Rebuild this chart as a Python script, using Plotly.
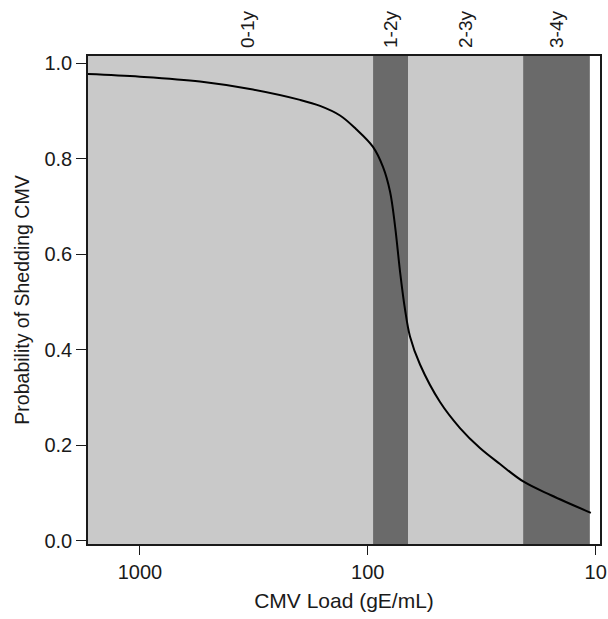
import plotly.graph_objects as go

# Curve: CMV load (gE/mL) vs probability of shedding
load = [1691, 1000, 545.3, 328.9, 198.4, 162.1, 132.4, 112.7, 94.9, 85.8, 79.9, 75.9, 72.2, 68.7, 65.3,
        59.0, 48.2, 39.4, 32.2, 26.3, 20.7, 15.7, 10.5]
prob = [0.9776, 0.972, 0.9619, 0.9461, 0.9233, 0.9107, 0.8906, 0.8623, 0.8248, 0.7829, 0.7313, 0.658,
        0.5637, 0.4851, 0.4275, 0.3688, 0.2902, 0.2357, 0.1938, 0.1603, 0.1232, 0.0949, 0.058]

# Age bands (shading)
band_hi = [2000, 94.8, 66.6, 20.8, 10.6]
band_lo = [94.8, 66.6, 20.8, 10.6, 9.0]
band_color = ["#c9c9c9", "#6a6a6a", "#c9c9c9", "#6a6a6a", "#ffffff"]

# Top age labels
age_labels = ["0-1y", "1-2y", "2-3y", "3-4y"]
age_pos = [336, 79.5, 37.2, 14.8]

x_ticks = [1000, 100, 10]
y_ticks = [0.0, 0.2, 0.4, 0.6, 0.8, 1.0]

x_range = [3.228, 0.981]  # log10 units, reversed
y_range = [-0.0073, 1.0153]

FONT = "Liberation Sans, Arial, sans-serif"

fig = go.Figure()

shapes = []
for lo, hi, c in zip(band_lo, band_hi, band_color):
    shapes.append(dict(type="rect", xref="x", yref="paper", x0=hi, x1=lo, y0=0, y1=1,
                       fillcolor=c, line=dict(width=0), layer="below"))

fig.add_trace(go.Scatter(x=load, y=prob, mode="lines",
                         line=dict(color="black", width=2, shape="spline", smoothing=1.0),
                         showlegend=False, hoverinfo="skip"))
# dummy trace for top axis
fig.add_trace(go.Scatter(x=age_pos, y=[None] * len(age_pos), xaxis="x2", mode="markers",
                         showlegend=False, hoverinfo="skip"))

fig.update_layout(
    width=608, height=619,
    margin=dict(l=88, r=8, t=56, b=75),
    paper_bgcolor="white",
    plot_bgcolor="#c9c9c9",
    shapes=shapes,
    font=dict(family=FONT, color="#1a1a1a", size=20),
    xaxis=dict(type="log", range=x_range, tickvals=x_ticks, ticktext=[str(v) for v in x_ticks],
               ticks="outside", ticklen=9, tickwidth=1.3, tickcolor="#1a1a1a",
               showline=True, linecolor="#1a1a1a", linewidth=1.5, mirror=True,
               showgrid=False, zeroline=False, automargin=False,
               tickfont=dict(size=20),
               title=dict(text="CMV Load (gE/mL)", font=dict(size=21), standoff=12)),
    xaxis2=dict(type="log", range=x_range, overlaying="x", side="top", tickvals=age_pos, ticktext=age_labels,
                tickangle=-90, ticks="", showline=False, showgrid=False, zeroline=False, automargin=False,
                tickfont=dict(size=19), ticklabelstandoff=7),
    yaxis=dict(range=y_range, tickvals=y_ticks, tickformat=".1f",
               ticks="outside", ticklen=10, tickwidth=1.3, tickcolor="#1a1a1a",
               showline=True, linecolor="#1a1a1a", linewidth=1.5, mirror=True,
               showgrid=False, zeroline=False, automargin=False,
               tickfont=dict(size=20),
               title=dict(text="Probability of Shedding CMV", font=dict(size=19.5), standoff=10)),
)

fig.write_html("out.html")
